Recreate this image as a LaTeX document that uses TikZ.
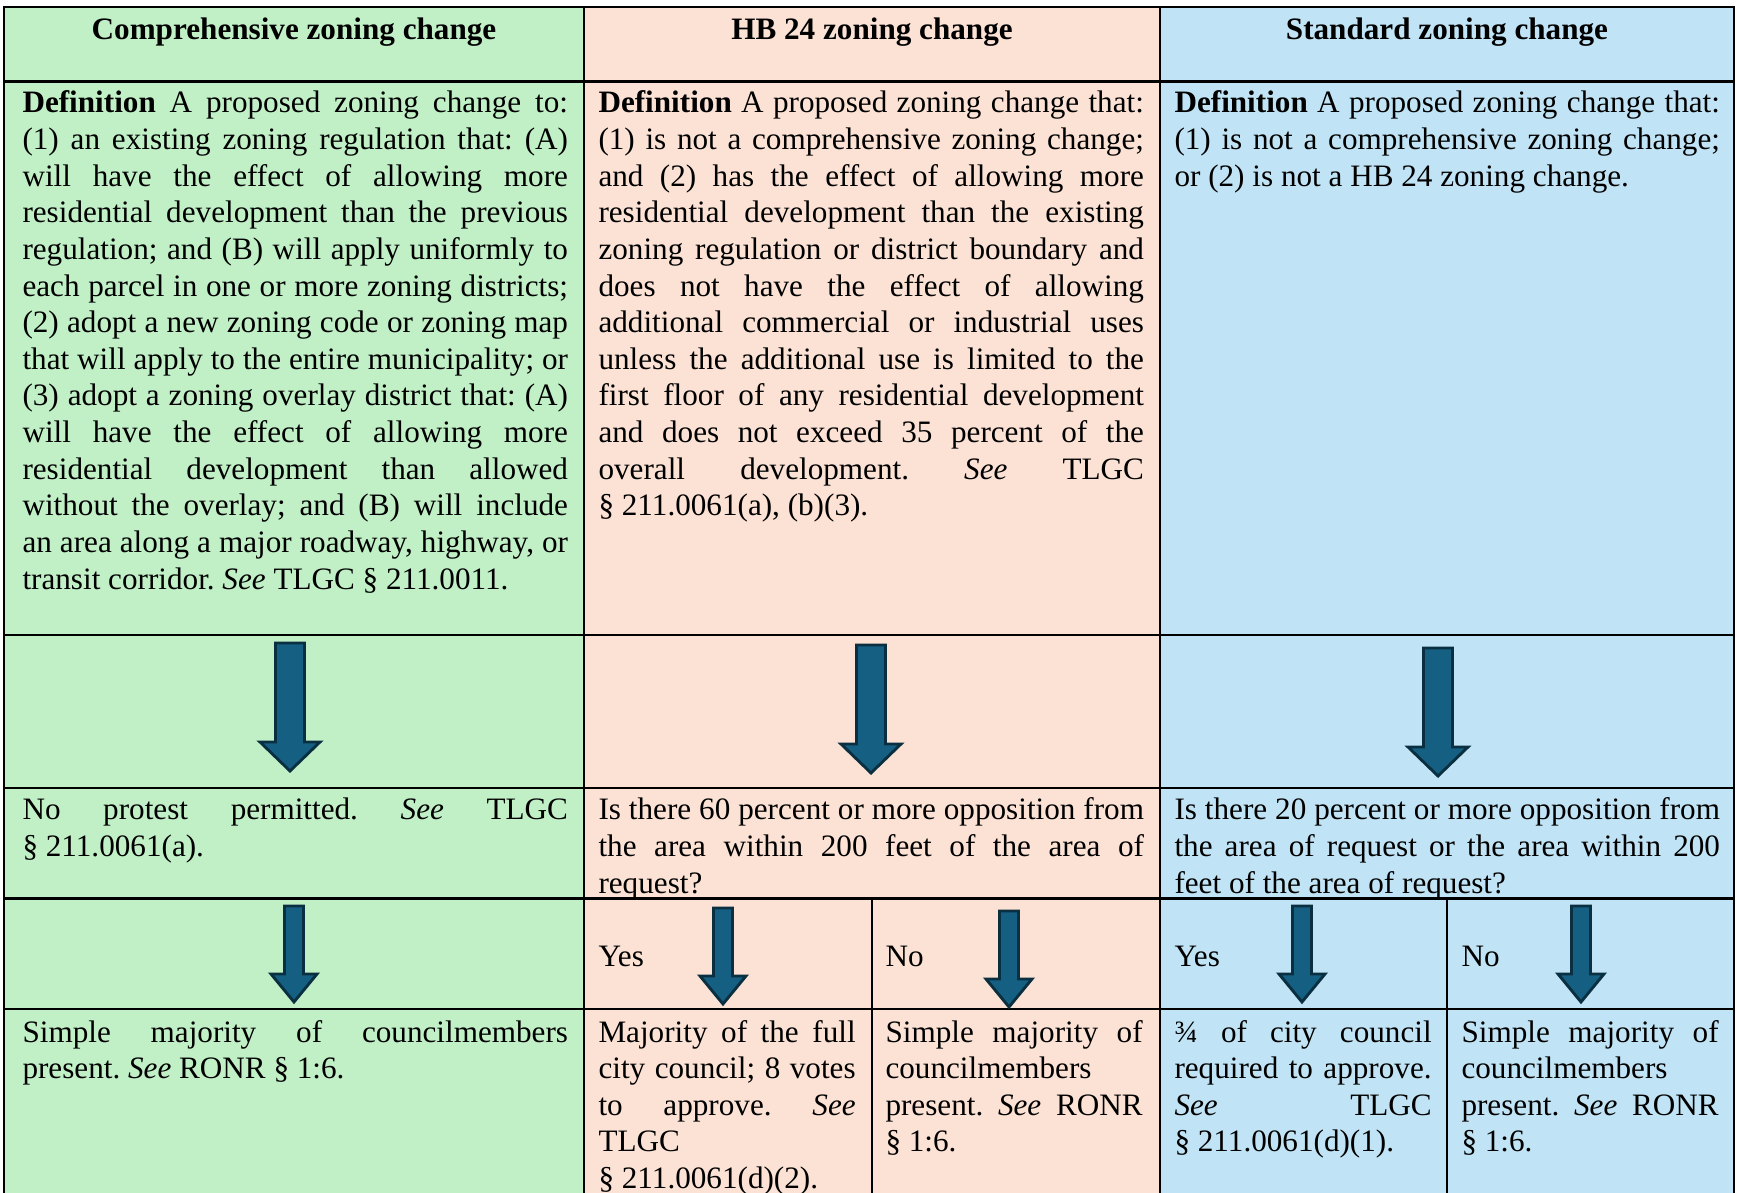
\documentclass[tikz,border=0pt]{standalone}
\usepackage{fontspec}
\setmainfont{Liberation Serif}
\usepackage{xcolor}
\definecolor{compgreen}{HTML}{C1F0C7}
\definecolor{hbpeach}{HTML}{FBE2D5}
\definecolor{stdblue}{HTML}{C0E4F5}
\definecolor{arrowfill}{HTML}{156082}
\definecolor{arrowline}{HTML}{0A2F41}
\newcommand{\cellfont}{\fontsize{12}{14.1}\selectfont\frenchspacing}
\newcommand{\bigarrow}[2]{\draw[blockarrow] (#1-14.5,#2) -- (#1+14.5,#2) -- (#1+14.5,#2+99) -- (#1+30,#2+99) -- (#1,#2+128) -- (#1-30,#2+99) -- (#1-14.5,#2+99) -- cycle;}
\newcommand{\smallarrow}[2]{\draw[blockarrow] (#1-9.5,#2) -- (#1+9.5,#2) -- (#1+9.5,#2+68) -- (#1+23,#2+68) -- (#1,#2+96) -- (#1-23,#2+68) -- (#1-9.5,#2+68) -- cycle;}

\begin{document}
\begin{tikzpicture}[x=0.385pt,y=-0.385pt]
	\tikzstyle{rule}=[line width=1pt,black]
	\tikzstyle{blockarrow}=[fill=arrowfill,draw=arrowline,line width=1.1pt]
	\tikzstyle{cell}=[anchor=base west,inner sep=0pt,text width=210pt,align=justify,font=\cellfont]
	\tikzstyle{halfcell}=[cell,text width=99pt]
	\tikzstyle{head}=[anchor=base,inner sep=0pt,font=\cellfont\bfseries]
	\tikzstyle{lbl}=[anchor=base west,inner sep=0pt,font=\cellfont]
	\useasboundingbox (0,0) rectangle (1737,1193);
	\clip (0,0) rectangle (1737,1193);
	% column backgrounds
	\fill[compgreen] (4,7) rectangle (584,1200);
	\fill[hbpeach] (584,7) rectangle (1160,1200);
	\fill[stdblue] (1160,7) rectangle (1734,1200);
	% table rules
	\draw[rule] (4,1200) -- (4,7) -- (1734,7) -- (1734,1200);
	\foreach \y in {81.7,635,788,898.5,1009}
		\draw[rule] (4,\y) -- (1734,\y);
	\foreach \x in {584,1160}
		\draw[rule] (\x,7) -- (\x,1200);
	\foreach \x in {872,1447}
		\draw[rule] (\x,898.5) -- (\x,1200);
	% headers
	\node[head] (hcomp) at (294,40) {Comprehensive zoning change};
	\node[head] (hhb) at (872,40) {HB 24 zoning change};
	\node[head] (hstd) at (1447,40) {Standard zoning change};
	% definitions
	\node[cell] (defcomp) at (22,113) {\textbf{Definition} A proposed zoning change to:\break
		(1) an existing zoning regulation that: (A)\break
		will have the effect of allowing more\break
		residential development than the previous\break
		regulation; and (B) will apply uniformly to\break
		each parcel in one or more zoning districts;\break
		(2) adopt a new zoning code or zoning map\break
		that will apply to the entire municipality; or\break
		(3) adopt a zoning overlay district that: (A)\break
		will have the effect of allowing more\break
		residential development than allowed\break
		without the overlay; and (B) will include\break
		an area along a major roadway, highway, or\break
		transit corridor. \textit{See} TLGC § 211.0011.};
	\node[cell] (defhb) at (598,113) {\textbf{Definition} A proposed zoning change that:\break
		(1) is not a comprehensive zoning change;\break
		and (2) has the effect of allowing more\break
		residential development than the existing\break
		zoning regulation or district boundary and\break
		does not have the effect of allowing\break
		additional commercial or industrial uses\break
		unless the additional use is limited to the\break
		first floor of any residential development\break
		and does not exceed 35 percent of the\break
		overall development. \textit{See} TLGC\break
		§ 211.0061(a), (b)(3).};
	\node[cell] (defstd) at (1174,113) {\textbf{Definition} A proposed zoning change that:\break
		(1) is not a comprehensive zoning change;\break
		or (2) is not a HB 24 zoning change.};
	% first arrows
	\bigarrow{290}{643}
	\bigarrow{871}{645}
	\bigarrow{1438}{648}
	% protest questions
	\node[cell] (qcomp) at (22,820) {No protest permitted. \textit{See} TLGC\break
		§ 211.0061(a).};
	\node[cell] (qhb) at (598,820) {Is there 60 percent or more opposition from\break
		the area within 200 feet of the area of\break
		request?};
	\node[cell] (qstd) at (1174,820) {Is there 20 percent or more opposition from\break
		the area of request or the area within 200\break
		feet of the area of request?};
	% answers
	\node[lbl] (yeshb) at (598,966) {Yes};
	\node[lbl] (nohb) at (885,966) {No};
	\node[lbl] (yesstd) at (1174,966) {Yes};
	\node[lbl] (nostd) at (1461,966) {No};
	\smallarrow{294}{906}
	\smallarrow{723}{908}
	\smallarrow{1009}{911}
	\smallarrow{1302}{906}
	\smallarrow{1581}{906}
	% votes needed
	\node[cell] (vcomp) at (22,1042) {Simple majority of councilmembers\break
		present. \textit{See} RONR § 1:6.};
	\node[halfcell] (vhbyes) at (598,1042) {Majority of the full\break
		city council; 8 votes\break
		to approve. \textit{See}\break
		TLGC\break
		§ 211.0061(d)(2).};
	\node[halfcell] (vhbno) at (885,1042) {Simple majority of\break
		councilmembers\\
		present. \textit{See} RONR\break
		§ 1:6.};
	\node[halfcell] (vstdyes) at (1174,1042) {¾ of city council\break
		required to approve.\break
		\textit{See} TLGC\break
		§ 211.0061(d)(1).};
	\node[halfcell] (vstdno) at (1461,1042) {Simple majority of\break
		councilmembers\\
		present. \textit{See} RONR\break
		§ 1:6.};
\end{tikzpicture}
\end{document}
